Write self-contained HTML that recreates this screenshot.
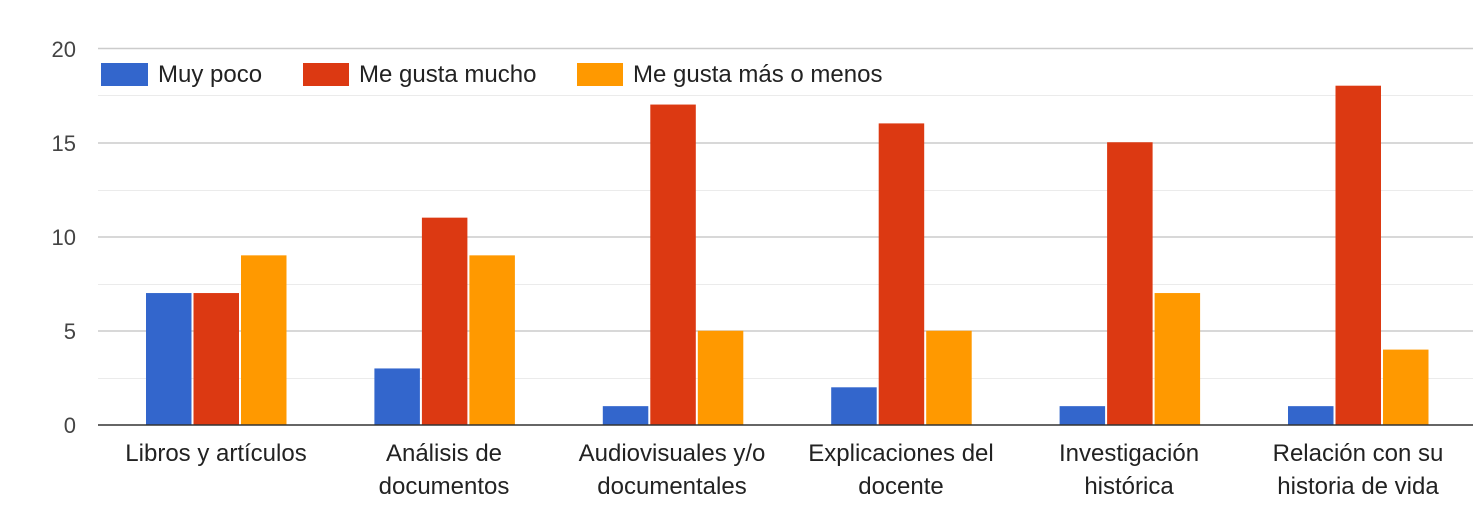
<!DOCTYPE html>
<html><head><meta charset="utf-8"><style>
body{margin:0;background:#fff;}
svg{display:block;font-family:"Liberation Sans",Arial,sans-serif;}
</style></head><body>
<svg width="1473" height="532" viewBox="0 0 1473 532" xmlns="http://www.w3.org/2000/svg">
<g stroke="#ebebeb" stroke-width="1">
<line x1="98" x2="1473" y1="95.5" y2="95.5"/>
<line x1="98" x2="1473" y1="190.5" y2="190.5"/>
<line x1="98" x2="1473" y1="284.5" y2="284.5"/>
<line x1="98" x2="1473" y1="378.5" y2="378.5"/>
</g>
<g stroke="#cccccc" stroke-width="1.5">
<line x1="98" x2="1473" y1="48.5" y2="48.5"/>
<line x1="98" x2="1473" y1="143" y2="143"/>
<line x1="98" x2="1473" y1="237" y2="237"/>
<line x1="98" x2="1473" y1="331" y2="331"/>
</g>
<g font-size="22" fill="#444" text-anchor="end">
<text x="76" y="57">20</text>
<text x="76" y="151">15</text>
<text x="76" y="245">10</text>
<text x="76" y="339">5</text>
<text x="76" y="433">0</text>
</g>
<g fill="#3366cc">
<rect x="146" y="293.05" width="45.5" height="131.95"/>
<rect x="374.4" y="368.45" width="45.5" height="56.55"/>
<rect x="602.8" y="406.15" width="45.5" height="18.85"/>
<rect x="831.2" y="387.3" width="45.5" height="37.7"/>
<rect x="1059.6" y="406.15" width="45.5" height="18.85"/>
<rect x="1288" y="406.15" width="45.5" height="18.85"/>
</g>
<g fill="#dc3912">
<rect x="193.5" y="293.05" width="45.5" height="131.95"/>
<rect x="421.9" y="217.65" width="45.5" height="207.35"/>
<rect x="650.3" y="104.55" width="45.5" height="320.45"/>
<rect x="878.7" y="123.4" width="45.5" height="301.6"/>
<rect x="1107.1" y="142.25" width="45.5" height="282.75"/>
<rect x="1335.5" y="85.7" width="45.5" height="339.3"/>
</g>
<g fill="#ff9900">
<rect x="241" y="255.35" width="45.5" height="169.65"/>
<rect x="469.4" y="255.35" width="45.5" height="169.65"/>
<rect x="697.8" y="330.75" width="45.5" height="94.25"/>
<rect x="926.2" y="330.75" width="45.5" height="94.25"/>
<rect x="1154.6" y="293.05" width="45.5" height="131.95"/>
<rect x="1383" y="349.6" width="45.5" height="75.4"/>
</g>
<line x1="98" x2="1473" y1="425" y2="425" stroke="#333" stroke-width="1.5"/>
<g font-size="24" fill="#222">
<rect x="101" y="63" width="47" height="23" fill="#3366cc"/><text x="158" y="82">Muy poco</text>
<rect x="303" y="63" width="46" height="23" fill="#dc3912"/><text x="359" y="82">Me gusta mucho</text>
<rect x="577" y="63" width="46" height="23" fill="#ff9900"/><text x="633" y="82">Me gusta más o menos</text>
</g>
<g font-size="24" fill="#222" text-anchor="middle">
<text x="216" y="461">Libros y artículos</text>
<text x="444" y="461">Análisis de</text><text x="444" y="494">documentos</text>
<text x="672" y="461">Audiovisuales y/o</text><text x="672" y="494">documentales</text>
<text x="901" y="461">Explicaciones del</text><text x="901" y="494">docente</text>
<text x="1129" y="461">Investigación</text><text x="1129" y="494">histórica</text>
<text x="1358" y="461">Relación con su</text><text x="1358" y="494">historia de vida</text>
</g>
</svg>
</body></html>
